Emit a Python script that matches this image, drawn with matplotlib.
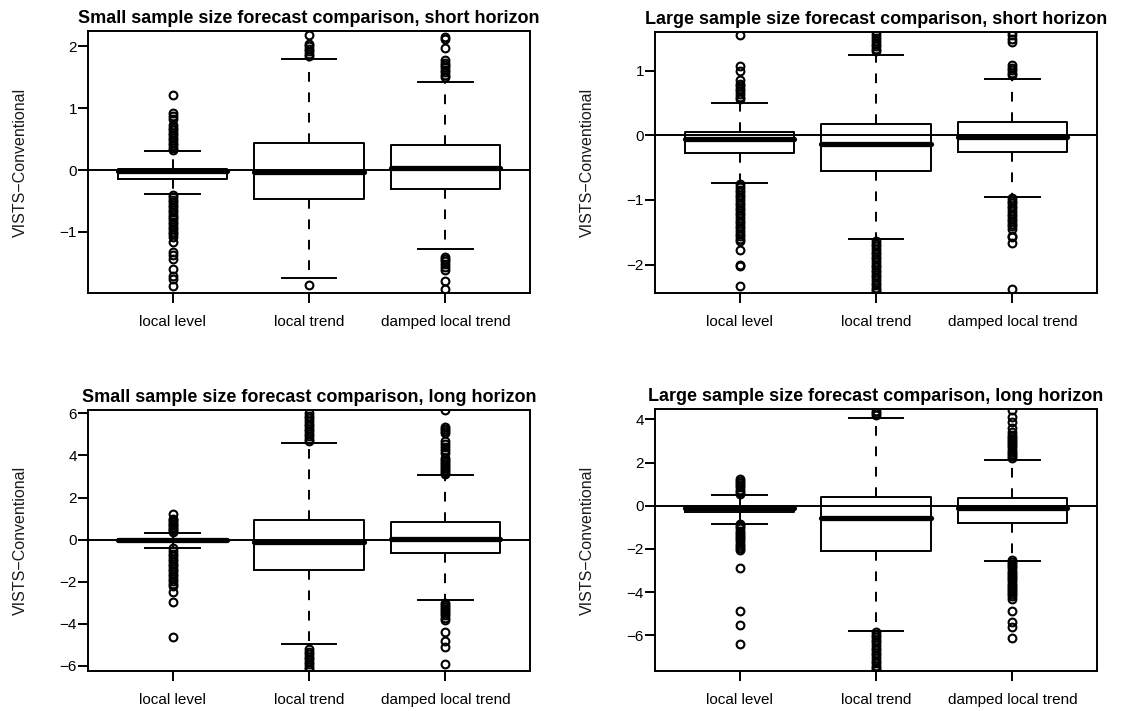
import matplotlib
matplotlib.use("Agg")
import matplotlib.pyplot as plt

plt.rcParams["font.family"] = ["Liberation Sans", "DejaVu Sans"]

models = ["local level", "local trend", "damped local trend"]
ylabel = "VISTS\u2212Conventional"

# ── small sample, short horizon ─────────────────────────────
ss_title = "Small sample size forecast comparison, short horizon"
ss_med = [-0.02, -0.03, 0.04]
ss_q1 = [-0.15, -0.47, -0.30]
ss_q3 = [0.02, 0.44, 0.40]
ss_lo = [-0.39, -1.74, -1.27]
ss_hi = [0.30, 1.80, 1.43]
ss_fliers = [
    [1.21, 0.93, 0.87, 0.82, 0.73, 0.68, 0.64, 0.60, 0.56, 0.52, 0.48, 0.44,
     0.40, 0.36, 0.32, -0.40, -0.44, -0.48, -0.52, -0.56, -0.60, -0.64, -0.68,
     -0.72, -0.76, -0.80, -0.84, -0.88, -0.92, -0.96, -1.00, -1.04, -1.08,
     -1.17, -1.32, -1.37, -1.44, -1.60, -1.72, -1.77, -1.87],
    [2.19, 2.04, 2.00, 1.96, 1.92, 1.88, 1.84, -1.86],
    [2.16, 2.12, 1.97, 1.78, 1.74, 1.70, 1.66, 1.62, 1.58, 1.54, 1.50,
     -1.40, -1.44, -1.48, -1.52, -1.57, -1.62, -1.80, -1.92],
]
ss_ylim = [-1.99, 2.25]
ss_ticks = [-1, 0, 1, 2]

# ── large sample, short horizon ─────────────────────────────
ls_title = "Large sample size forecast comparison, short horizon"
ls_med = [-0.05, -0.13, -0.02]
ls_q1 = [-0.27, -0.55, -0.26]
ls_q3 = [0.05, 0.17, 0.21]
ls_lo = [-0.74, -1.61, -0.95]
ls_hi = [0.50, 1.24, 0.87]
ls_fliers = [
    [1.55, 1.07, 1.00, 0.85, 0.80, 0.76, 0.72, 0.68, 0.64, 0.60, 0.56,
     -0.76, -0.80, -0.84, -0.88, -0.92, -0.96, -1.00, -1.04, -1.08, -1.12,
     -1.16, -1.20, -1.24, -1.28, -1.32, -1.36, -1.40, -1.44, -1.48, -1.52,
     -1.56, -1.60, -1.64, -1.78, -2.00, -2.02, -2.33],
    [1.60, 1.55, 1.50, 1.46, 1.42, 1.38, 1.34, 1.30,
     -1.64, -1.68, -1.72, -1.76, -1.80, -1.84, -1.88, -1.92, -1.96, -2.00,
     -2.04, -2.08, -2.12, -2.16, -2.20, -2.24, -2.28, -2.32, -2.36, -2.40, -2.43],
    [1.60, 1.55, 1.49, 1.45, 1.09, 1.05, 1.01, 0.97, 0.93,
     -0.97, -1.01, -1.05, -1.09, -1.13, -1.17, -1.21, -1.25, -1.29, -1.33,
     -1.37, -1.41, -1.45, -1.55, -1.58, -1.66, -2.38],
]
ls_ylim = [-2.44, 1.60]
ls_ticks = [-2, -1, 0, 1]

# ── small sample, long horizon ──────────────────────────────
sl_title = "Small sample size forecast comparison, long horizon"
sl_med = [-0.01, -0.13, 0.05]
sl_q1 = [-0.03, -1.46, -0.63]
sl_q3 = [0.03, 0.95, 0.84]
sl_lo = [-0.38, -4.97, -2.89]
sl_hi = [0.32, 4.57, 3.05]
sl_fliers = [
    [1.20, 1.00, 0.92, 0.84, 0.76, 0.68, 0.60, 0.52, 0.44, 0.36,
     -0.42, -0.54, -0.66, -0.78, -0.90, -1.02, -1.14, -1.26, -1.38, -1.50,
     -1.62, -1.74, -1.86, -1.98, -2.10, -2.22, -2.50, -2.95, -4.62],
    [6.00, 5.88, 5.76, 5.64, 5.52, 5.40, 5.28, 5.16, 5.04, 4.92, 4.80, 4.70,
     -5.20, -5.32, -5.44, -5.56, -5.68, -5.80, -5.92, -6.04, -6.15],
    [6.15, 5.35, 5.25, 5.15, 5.05, 4.70, 4.55, 4.40, 4.25, 4.10, 3.90, 3.80,
     3.70, 3.60, 3.50, 3.40, 3.30, 3.20, 3.10,
     -3.00, -3.10, -3.20, -3.30, -3.40, -3.50, -3.60, -3.70, -3.80,
     -4.40, -4.80, -5.10, -5.90],
]
sl_ylim = [-6.24, 6.16]
sl_ticks = [-6, -4, -2, 0, 2, 4, 6]

# ── large sample, long horizon ──────────────────────────────
ll_title = "Large sample size forecast comparison, long horizon"
ll_med = [-0.10, -0.57, -0.08]
ll_q1 = [-0.31, -2.10, -0.81]
ll_q3 = [0.00, 0.42, 0.37]
ll_lo = [-0.83, -5.78, -2.54]
ll_hi = [0.48, 4.05, 2.12]
ll_fliers = [
    [1.25, 1.15, 1.05, 0.95, 0.85, 0.75, 0.65, 0.55,
     -0.85, -0.95, -1.05, -1.15, -1.25, -1.35, -1.45, -1.55, -1.65, -1.75,
     -1.85, -1.95, -2.05, -2.90, -4.85, -5.50, -6.40],
    [4.40, 4.30, 4.20,
     -5.85, -5.97, -6.09, -6.21, -6.33, -6.45, -6.57, -6.69, -6.81, -6.93,
     -7.05, -7.17, -7.29, -7.41, -7.53, -7.62],
    [4.45, 4.10, 3.90, 3.60, 3.40, 3.30, 3.20, 3.10, 3.00, 2.90, 2.80, 2.70,
     2.60, 2.50, 2.40, 2.30, 2.20,
     -2.50, -2.60, -2.70, -2.80, -2.90, -3.00, -3.10, -3.20, -3.30, -3.40,
     -3.50, -3.60, -3.70, -3.80, -3.90, -4.00, -4.10, -4.20, -4.30,
     -4.85, -5.40, -5.60, -6.10],
]
ll_ylim = [-7.65, 4.48]
ll_ticks = [-6, -4, -2, 0, 2, 4]

LW = 1.4


def draw_panel(ax, title, med, q1, q3, lo, hi, fliers, ylim, ticks):
    stats = []
    for i, name in enumerate(models):
        stats.append(dict(label=name, med=med[i], q1=q1[i], q3=q3[i],
                          whislo=lo[i], whishi=hi[i], fliers=fliers[i]))
    ax.bxp(stats, positions=[1, 2, 3], widths=0.8, capwidths=0.4,
           boxprops=dict(color="black", lw=LW),
           medianprops=dict(color="black", lw=3.8, solid_capstyle="round"),
           whiskerprops=dict(color="black", lw=LW, linestyle=(0, (5, 5.5))),
           capprops=dict(color="black", lw=LW),
           flierprops=dict(marker="o", markersize=5.6, markerfacecolor="none",
                           markeredgecolor="black", markeredgewidth=1.5))
    ax.axhline(0, color="black", lw=LW, zorder=5)
    ax.set_xlim(0.38, 3.62)
    ax.set_ylim(*ylim)
    ax.set_yticks(ticks)
    ax.set_yticklabels([f"{t:d}".replace("-", "\u2212") for t in ticks])
    ax.set_xticks([1, 2, 3])
    ax.set_xticklabels(models)
    ax.tick_params(axis="x", direction="out", length=7, width=LW, pad=9,
                   labelsize=11)
    ax.tick_params(axis="y", direction="out", length=7, width=LW, pad=1,
                   labelsize=11)
    for s in ax.spines.values():
        s.set_linewidth(LW)
    ax.set_title(title, fontsize=13, fontweight="bold", pad=6)
    ax.set_ylabel(ylabel, fontsize=11.5, color="#1a1a1a")
    ax.yaxis.set_label_coords(-0.135, 0.5)


fig = plt.figure(figsize=(11.21, 7.11), dpi=100)
ax1 = fig.add_axes([0.0785, 0.5879, 0.3943, 0.3685])
ax2 = fig.add_axes([0.5843, 0.5879, 0.3943, 0.3671])
ax3 = fig.add_axes([0.0785, 0.0563, 0.3943, 0.3670])
ax4 = fig.add_axes([0.5843, 0.0563, 0.3943, 0.3684])

draw_panel(ax1, ss_title, ss_med, ss_q1, ss_q3, ss_lo, ss_hi, ss_fliers,
           ss_ylim, ss_ticks)
draw_panel(ax2, ls_title, ls_med, ls_q1, ls_q3, ls_lo, ls_hi, ls_fliers,
           ls_ylim, ls_ticks)
draw_panel(ax3, sl_title, sl_med, sl_q1, sl_q3, sl_lo, sl_hi, sl_fliers,
           sl_ylim, sl_ticks)
draw_panel(ax4, ll_title, ll_med, ll_q1, ll_q3, ll_lo, ll_hi, ll_fliers,
           ll_ylim, ll_ticks)

fig.savefig("out.png", dpi=100, facecolor="white")
